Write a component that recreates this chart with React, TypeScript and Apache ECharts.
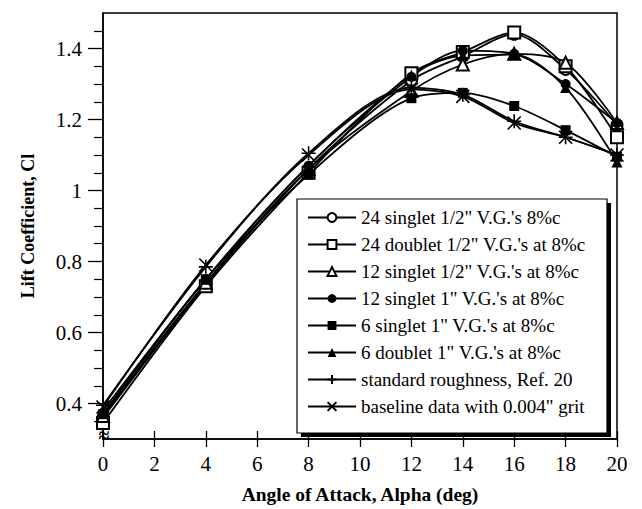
import React, { useEffect, useRef } from "react";
import * as echarts from "echarts";

// Angle of attack (deg)
const ALPHA = [0, 4, 8, 12, 14, 16, 18, 20];

// Lift coefficient series
const SINGLET24_HALF = [0.36, 0.735, 1.06, 1.31, 1.378, 1.44, 1.341, 1.185];
const DOUBLET24_HALF = [0.345, 0.73, 1.05, 1.33, 1.39, 1.445, 1.35, 1.15];
const SINGLET12_HALF = [0.365, 0.74, 1.06, 1.28, 1.355, 1.385, 1.36, 1.19];
const SINGLET12_ONE = [0.37, 0.75, 1.07, 1.32, 1.394, 1.385, 1.3, 1.19];
const SINGLET6_ONE = [0.37, 0.75, 1.045, 1.26, 1.275, 1.238, 1.17, 1.095];
const DOUBLET6_ONE = [0.38, 0.75, 1.07, 1.325, 1.38, 1.383, 1.29, 1.08];
const STANDARD_ROUGH = [0.395, 0.785, 1.105, 1.29, 1.27, 1.195, 1.15, 1.1];
const BASELINE_GRIT = [0.39, 0.79, 1.1, 1.285, 1.265, 1.19, 1.15, 1.1];

const SERIES_NAMES = [
  "24 singlet 1/2\" V.G.'s 8%c",
  "24 doublet 1/2\" V.G.'s at 8%c",
  "12 singlet 1/2\" V.G.'s at 8%c",
  "12 singlet 1\" V.G.'s at 8%c",
  "6 singlet 1\" V.G.'s at 8%c",
  "6 doublet 1\" V.G.'s at 8%c",
  "standard roughness, Ref. 20",
  "baseline data with 0.004\" grit",
];

// Axis tick values
const Y_LABEL_VALUES = [0.4, 0.6, 0.8, 1, 1.2, 1.4];
const Y_MINOR_VALUES = [0.35, 0.45, 0.5, 0.55, 0.65, 0.7, 0.75, 0.85, 0.9, 0.95, 1.05, 1.1, 1.15, 1.25, 1.3, 1.35, 1.45];

const FONT = "'Liberation Serif', 'Times New Roman', serif";

export default function App() {
  const ref = useRef<HTMLDivElement>(null);

  useEffect(() => {
    document.body.style.margin = "0";
    if (!ref.current) return;
    const chart = echarts.init(ref.current, undefined, { renderer: "svg" });

    const allData = [
      SINGLET24_HALF,
      DOUBLET24_HALF,
      SINGLET12_HALF,
      SINGLET12_ONE,
      SINGLET6_ONE,
      DOUBLET6_ONE,
      STANDARD_ROUGH,
      BASELINE_GRIT,
    ];
    const symbols = [
      "emptyCircle",
      "emptyRect",
      "emptyTriangle",
      "circle",
      "rect",
      "triangle",
      "path://M5,0L5,10M0,5L10,5",
      "path://M0,0L10,10M10,0L0,10",
    ];
    const sizes = [11, 12, 12, 10, 10, 11, 14, 13];

    const series = allData.map((vals, i) => {
      const isPath = i >= 6;
      const isEmpty = i < 3;
      return {
        type: "line",
        name: SERIES_NAMES[i],
        data: ALPHA.map((a, k) => [a, vals[k]]),
        smooth: 0.3,
        symbol: symbols[i],
        symbolSize: sizes[i],
        showSymbol: true,
        z: 2,
        lineStyle: { color: "#000", width: 1.8 },
        itemStyle: isPath
          ? { color: "rgba(0,0,0,0)", borderColor: "#000", borderWidth: 1.6 }
          : isEmpty
          ? { color: "#000", borderColor: "#000", borderWidth: 1.5 }
          : { color: "#000", borderWidth: 0 },
      };
    });

    chart.setOption({
      animation: false,
      backgroundColor: "#fff",
      grid: {
        left: 103,
        right: 25,
        top: 13,
        bottom: 66,
        show: true,
        borderColor: "#000",
        borderWidth: 1.5,
        backgroundColor: "rgba(0,0,0,0)",
      },
      xAxis: [
        {
          type: "value",
          min: 0,
          max: 20,
          interval: 2,
          position: "bottom",
          name: "Angle of Attack, Alpha (deg)",
          nameLocation: "middle",
          nameGap: 45,
          nameTextStyle: { fontFamily: FONT, fontWeight: "bold", fontSize: 19.5, color: "#000" },
          axisLine: { show: true, lineStyle: { color: "#000", width: 1.5 } },
          axisTick: { show: true, inside: false, length: 8, lineStyle: { color: "#000", width: 1.3 } },
          axisLabel: { fontFamily: FONT, fontSize: 21, color: "#000", margin: 14 },
          splitLine: { show: false },
        },
        {
          type: "value",
          min: 0,
          max: 20,
          interval: 2,
          position: "bottom",
          axisLine: { show: false },
          axisTick: { show: true, inside: true, length: 8, lineStyle: { color: "#000", width: 1.3 } },
          axisLabel: { show: false },
          splitLine: { show: false },
        },
      ],
      yAxis: [
        {
          type: "value",
          min: 0.3,
          max: 1.5,
          position: "left",
          name: "Lift Coefficient, Cl",
          nameLocation: "middle",
          nameGap: 66,
          nameTextStyle: { fontFamily: FONT, fontWeight: "bold", fontSize: 18, color: "#000" },
          axisLine: { show: true, lineStyle: { color: "#000", width: 1.5 } },
          axisTick: {
            show: true,
            inside: false,
            length: 15,
            customValues: Y_LABEL_VALUES,
            lineStyle: { color: "#000", width: 1.3 },
          },
          axisLabel: {
            fontFamily: FONT,
            fontSize: 21,
            color: "#000",
            margin: 21,
            customValues: Y_LABEL_VALUES,
            formatter: (v: number) => String(+v.toFixed(2)),
          },
          splitLine: { show: false },
        },
        {
          type: "value",
          min: 0.3,
          max: 1.5,
          position: "left",
          axisLine: { show: false },
          axisTick: {
            show: true,
            inside: false,
            length: 9,
            customValues: Y_MINOR_VALUES,
            lineStyle: { color: "#000", width: 1.2 },
          },
          axisLabel: { show: false, customValues: Y_MINOR_VALUES },
          splitLine: { show: false },
        },
      ],
      legend: {
        orient: "vertical",
        left: 302,
        top: 203,
        itemWidth: 48,
        itemHeight: 11,
        itemGap: 8,
        z: 5,
        data: SERIES_NAMES,
        textStyle: { fontFamily: FONT, fontSize: 19, color: "#000" },
        inactiveColor: "#000",
      },
      graphic: [
        {
          type: "rect",
          z: 3,
          shape: { x: 301, y: 203, width: 310, height: 234 },
          style: { fill: "#000" },
        },
        {
          type: "rect",
          z: 4,
          shape: { x: 297, y: 199, width: 310, height: 234 },
          style: { fill: "#fff", stroke: "#000", lineWidth: 1.2 },
        },
        {
          type: "text",
          z: 6,
          x: 104,
          y: 435,
          style: {
            text: "≈",
            fontSize: 20,
            fontWeight: "bold",
            fontFamily: FONT,
            fill: "#000",
            align: "center",
            verticalAlign: "middle",
          },
        },
      ],
      series,
    });

    return () => chart.dispose();
  }, []);

  return <div ref={ref} style={{ width: 642, height: 509 }} />;
}
